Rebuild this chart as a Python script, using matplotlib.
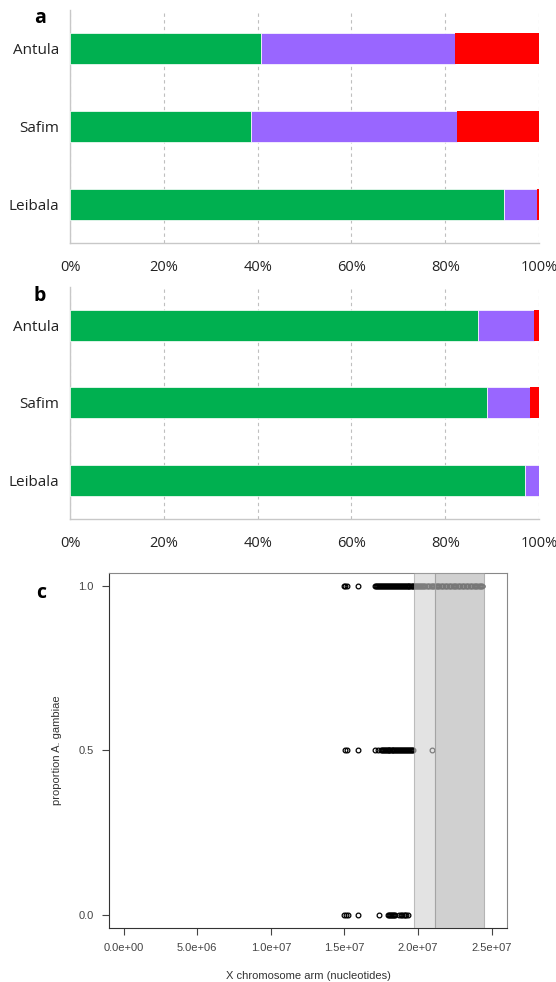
import numpy as np
import matplotlib.pyplot as plt

# panel a and b: share of each ancestry class per village
villages = ['Leibala', 'Safim', 'Antula']
a_green = [92.5, 38.5, 40.7]
a_purple = [7.0, 44.1, 41.3]
a_red = [0.5, 17.4, 18.0]

b_green = [97.1, 88.9, 87.1]
b_purple = [2.9, 9.2, 11.9]
b_red = [0.0, 1.9, 1.0]

pct_ticks = [0, 20, 40, 60, 80, 100]
pct_labels = ['0%', '20%', '40%', '60%', '80%', '100%']

# panel c: SNP positions along X (Mb) for each proportion level
pos_one = [15.0, 15.06, 15.2, 15.9,
           17.1, 17.16, 17.22, 17.3, 17.36, 17.42, 17.5, 17.55, 17.62, 17.7,
           17.76, 17.83, 17.9, 17.95, 18.02, 18.1, 18.16, 18.22, 18.3, 18.36,
           18.43, 18.5, 18.56, 18.62, 18.7, 18.77, 18.83, 18.9, 18.96, 19.03,
           19.1, 19.16, 19.23, 19.3, 19.36, 19.42, 19.5, 19.56, 19.63, 19.7,
           19.76, 19.83, 19.9, 19.97, 20.05, 20.12, 20.2, 20.28, 20.35, 20.43,
           20.5, 20.6, 20.68, 20.76, 20.85, 20.93, 21.02, 21.1, 21.2, 21.28,
           21.37, 21.45, 21.55, 21.63, 21.72, 21.8, 21.9, 22.0, 22.08, 22.17,
           22.26, 22.35, 22.43, 22.52, 22.6, 22.7, 22.8, 22.88, 22.97, 23.05,
           23.15, 23.24, 23.32, 23.42, 23.5, 23.6, 23.68, 23.77, 23.86, 23.95,
           24.03, 24.12, 24.2, 24.3, 24.38]
pos_half = [15.02, 15.2, 15.95, 17.1, 17.28,
            17.5, 17.56, 17.62, 17.68, 17.75, 17.8, 17.86, 17.93, 18.0, 18.06,
            18.12, 18.2, 18.26, 18.32, 18.4, 18.46, 18.52, 18.6, 18.66, 18.72,
            18.8, 18.86, 18.92, 19.0, 19.06, 19.13, 19.2, 19.26, 19.33, 19.4,
            19.46, 19.53, 19.6, 19.68, 20.95]
pos_zero = [15.0, 15.1, 15.25, 15.92, 17.38,
            17.95, 18.02, 18.08, 18.15, 18.22, 18.3, 18.38, 18.45, 18.7,
            18.82, 18.9, 19.05, 19.12, 19.2, 19.3]

# shaded windows on the X arm (Mb)
light_win = [19.73, 21.16]
dark_win = [21.16, 24.49]

green = '#00b050'
purple = '#9966ff'
red = '#ff0000'
cat_font = 'Open Sans'


def draw_bars(ax, g, p, r):
    y = np.arange(len(villages))
    ax.barh(y, g, height=0.4, color=green, edgecolor='white', linewidth=0.5, zorder=3)
    ax.barh(y, p, left=g, height=0.4, color=purple, edgecolor='white', linewidth=0.5, zorder=3)
    left_r = np.array(g) + np.array(p)
    ax.barh(y, r, left=left_r, height=0.4, color=red, edgecolor='none', zorder=3)
    ax.set_xlim(0, 100)
    ax.set_ylim(-0.5, 2.5)
    ax.set_yticks(y)
    ax.set_yticklabels(villages, fontsize=11, family=cat_font, color='#222222')
    ax.set_xticks(pct_ticks)
    ax.set_xticklabels(pct_labels, fontsize=10.5, family=cat_font, color='#222222')
    ax.tick_params(length=0, pad=12, axis='x')
    ax.tick_params(length=0, pad=8, axis='y')
    ax.grid(axis='x', linestyle=(0, (3, 3)), color='#bfbfbf', linewidth=0.8, zorder=0)
    for s in ['top', 'right']:
        ax.spines[s].set_visible(False)
    for s in ['left', 'bottom']:
        ax.spines[s].set_color('#c8c8c8')
        ax.spines[s].set_linewidth(1.0)


def draw_scatter(ax):
    mb = 1e6
    for yv, pos in [(1.0, pos_one), (0.5, pos_half), (0.0, pos_zero)]:
        x = np.array(pos) * mb
        ax.plot(x, np.full(len(x), yv), 'o', mfc='none', mec='black',
                ms=3.4, mew=0.9, zorder=2)
    # translucent windows drawn over the points
    ax.axvspan(light_win[0] * mb, light_win[1] * mb, facecolor=(0.82, 0.82, 0.82),
               alpha=0.6, edgecolor='#999999', linewidth=0.8, zorder=3)
    ax.axvspan(dark_win[0] * mb, dark_win[1] * mb, facecolor=(0.72, 0.72, 0.72),
               alpha=0.65, edgecolor='#999999', linewidth=0.8, zorder=3)
    ax.set_xlim(-1.0e6, 26.05e6)
    ax.set_ylim(-0.04, 1.04)
    xt = [0, 5e6, 1e7, 1.5e7, 2e7, 2.5e7]
    ax.set_xticks(xt)
    ax.set_xticklabels(['0.0e+00', '5.0e+06', '1.0e+07', '1.5e+07', '2.0e+07', '2.5e+07'])
    ax.set_yticks([0.0, 0.5, 1.0])
    ax.set_yticklabels(['0.0', '0.5', '1.0'])
    ax.tick_params(labelsize=8, colors='#444444', length=5, width=0.8, pad=6)
    for t in ax.get_xticklabels() + ax.get_yticklabels():
        t.set_family('Liberation Sans')
    ax.set_xlabel('X chromosome arm (nucleotides)', fontsize=8, family='Liberation Sans',
                  color='#333333', labelpad=13)
    ax.set_ylabel('proportion A. gambiae', fontsize=8, family='Liberation Sans',
                  color='#333333', labelpad=12)
    ax.spines['left'].set_color('#333333')
    ax.spines['bottom'].set_color('#333333')
    ax.spines['top'].set_color('#888888')
    ax.spines['right'].set_color('#888888')


def main():
    fig = plt.figure(figsize=(5.56, 9.82), dpi=100)
    ax_a = fig.add_axes([0.1259, 0.7525, 0.8435, 0.2373])
    ax_b = fig.add_axes([0.1259, 0.4715, 0.8435, 0.2363])
    ax_c = fig.add_axes([0.196, 0.055, 0.716, 0.3615])
    draw_bars(ax_a, a_green, a_purple, a_red)
    draw_bars(ax_b, b_green, b_purple, b_red)
    draw_scatter(ax_c)
    # panel letters
    for letter, fx, fy in [('a', 0.072, 0.9817), ('b', 0.072, 0.6986), ('c', 0.0737, 0.396)]:
        fig.text(fx, fy, letter, fontsize=14, fontweight='bold', family=cat_font,
                 ha='center', va='center')
    fig.savefig('out.png', dpi=100)


if __name__ == '__main__':
    main()
